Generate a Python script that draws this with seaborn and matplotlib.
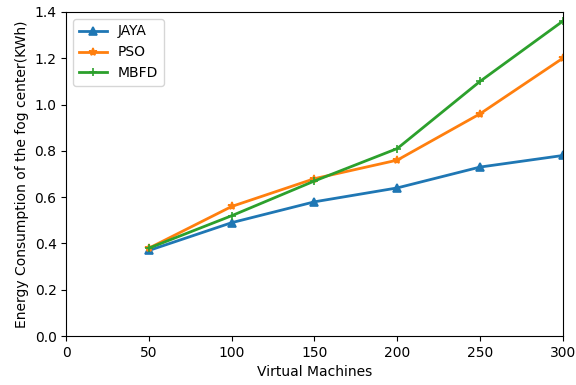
import pandas as pd
import matplotlib.pyplot as plt
import seaborn as sns

vms = [50, 100, 150, 200, 250, 300]
jaya = [0.37, 0.49, 0.58, 0.64, 0.73, 0.78]
pso = [0.38, 0.56, 0.68, 0.76, 0.96, 1.20]
mbfd = [0.38, 0.52, 0.67, 0.81, 1.10, 1.36]

df = pd.DataFrame({
    'vm': vms * 3,
    'energy': jaya + pso + mbfd,
    'algo': ['JAYA'] * 6 + ['PSO'] * 6 + ['MBFD'] * 6,
})

fig = plt.figure(figsize=(5.76, 3.85), dpi=100)
ax = fig.add_axes([0.115, 0.127, 0.862, 0.842])

colors = {'JAYA': 'tab:blue', 'PSO': 'tab:orange', 'MBFD': 'tab:green'}
markers = {'JAYA': '^', 'PSO': '*', 'MBFD': '+'}
for algo in ['JAYA', 'PSO', 'MBFD']:
    sub = df.loc[df.algo == algo]
    sns.lineplot(data=sub, x='vm', y='energy', ax=ax, color=colors[algo],
                 marker=markers[algo], markersize=6, linewidth=2,
                 markeredgecolor=colors[algo], markeredgewidth=1.2, label=algo)

ax.set_xlim(0, 300)
ax.set_ylim(0, 1.4)
ax.set_xticks([0, 50, 100, 150, 200, 250, 300])
ax.set_yticks([0.0, 0.2, 0.4, 0.6, 0.8, 1.0, 1.2, 1.4])
ax.set_xlabel('Virtual Machines')
ax.set_ylabel('Energy Consumption of the fog center(KWh)')
ax.legend(loc='upper left')

fig.savefig('out.png', dpi=100)
